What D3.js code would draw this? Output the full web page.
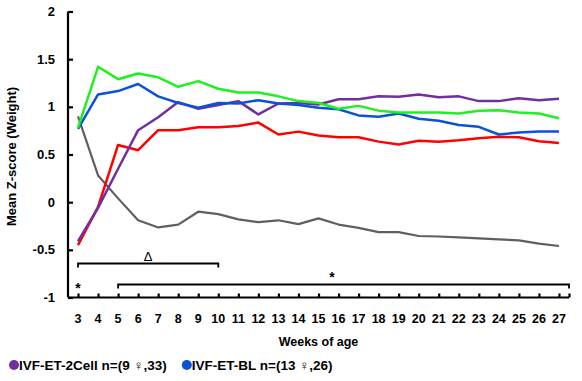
<!DOCTYPE html>
<html>
<head>
<meta charset="utf-8">
<script src="https://cdn.jsdelivr.net/npm/d3@7"></script>
<style>
  html, body { margin: 0; padding: 0; background: #fff; }
  svg text { font-family: "Liberation Sans", Arial, sans-serif; font-weight: bold; fill: #000; }
</style>
</head>
<body>
<svg id="chart" width="582" height="381"></svg>
<script>
// Weekly mean weight Z-scores, weeks 3–27
const weeks = d3.range(3, 28);

const purpleSeries = [-0.41, -0.06, 0.35, 0.755, 0.89, 1.05, 0.98, 1.02, 1.06, 0.92, 1.035, 1.04, 1.025,
  1.08, 1.08, 1.11, 1.105, 1.13, 1.10, 1.11, 1.06, 1.06, 1.09, 1.07, 1.085];
const blueSeries = [0.77, 1.13, 1.165, 1.24, 1.11, 1.04, 0.99, 1.04, 1.035, 1.07, 1.035, 1.02, 0.99,
  0.975, 0.91, 0.895, 0.93, 0.875, 0.855, 0.81, 0.79, 0.71, 0.73, 0.74, 0.74];
const greenSeries = [0.78, 1.42, 1.29, 1.35, 1.31, 1.21, 1.27, 1.19, 1.15, 1.15, 1.11, 1.06, 1.04,
  0.98, 1.01, 0.96, 0.94, 0.94, 0.94, 0.93, 0.96, 0.965, 0.94, 0.93, 0.88];
const redSeries = [-0.45, -0.05, 0.60, 0.545, 0.755, 0.755, 0.785, 0.785, 0.80, 0.835, 0.71, 0.74, 0.70,
  0.68, 0.68, 0.635, 0.605, 0.645, 0.635, 0.65, 0.67, 0.685, 0.68, 0.64, 0.62];
const graySeries = [0.90, 0.28, 0.04, -0.19, -0.265, -0.235, -0.10, -0.125, -0.18, -0.21, -0.19, -0.23, -0.17,
  -0.235, -0.27, -0.315, -0.315, -0.355, -0.36, -0.37, -0.38, -0.39, -0.40, -0.435, -0.46];

const series = [
  { name: "gray",   color: "#5f5f5f", values: graySeries, width: 2.2 },
  { name: "red",    color: "#ff0000", values: redSeries, width: 2.5 },
  { name: "purple", color: "#7030a0", values: purpleSeries, width: 2.5 },
  { name: "blue",   color: "#0b52d6", values: blueSeries, width: 2.5 },
  { name: "green",  color: "#1ff01f", values: greenSeries, width: 2.5 }
];

const yTicks = [2, 1.5, 1, 0.5, 0, -0.5, -1];
const yTickLabels = ["2", "1.5", "1", "0.5", "0", "-0.5", "-1"];

const legendItems = [
  { label: "IVF-ET-2Cell n=(9 \u2640,33)", color: "#7030a0" },
  { label: "IVF-ET-BL n=(13 \u2640,26)", color: "#0b52d6" }
];

// significance brackets (week spans)
const brackets = [
  { from: 3, to: 10, label: "\u0394", level: 0 },
  { from: 5, to: 27.5, label: "*", level: 1 }
];
const loneMarks = [{ week: 3, label: "*" }];

const svg = d3.select("#chart");
const plot = { left: 68, right: 569, top: 11.5, bottom: 297.5 };

const x = d3.scaleLinear().domain([2.5, 27.5]).range([plot.left, plot.right]);
const y = d3.scaleLinear().domain([-1, 2]).range([plot.bottom, plot.top]);

// lines
const line = d3.line().x((d, i) => x(weeks[i])).y(d => y(d));
svg.append("g").selectAll("path")
  .data(series)
  .join("path")
  .attr("fill", "none")
  .attr("stroke", d => d.color)
  .attr("stroke-width", d => d.width)
  .attr("stroke-linejoin", "round")
  .attr("d", d => line(d.values));

// y axis: ticks inside, bold labels
const yAxis = d3.axisRight(y).tickValues(yTicks).tickSize(5).tickFormat("");
const gy = svg.append("g").attr("transform", `translate(${plot.left},0)`).call(yAxis);
gy.select(".domain").attr("stroke", "#000").attr("stroke-width", 2.2)
  .attr("d", `M0,${plot.top}V${plot.bottom}`);
gy.selectAll(".tick line").attr("stroke", "#000").attr("stroke-width", 2.2);
svg.append("g").selectAll("text")
  .data(yTicks)
  .join("text")
  .attr("x", 55)
  .attr("y", d => y(d) + 4.5)
  .attr("text-anchor", "end")
  .attr("font-size", 13)
  .text((d, i) => yTickLabels[i]);

// x axis: ticks point up from the baseline
const xAxis = d3.axisTop(x).tickValues(weeks.concat([27.5])).tickSize(4).tickFormat("");
const gx = svg.append("g").attr("transform", `translate(0,${plot.bottom})`).call(xAxis);
gx.select(".domain").attr("stroke", "#000").attr("stroke-width", 2.2)
  .attr("d", `M${plot.left},0H${plot.right}`);
gx.selectAll(".tick line").attr("stroke", "#000").attr("stroke-width", 2.2);
svg.append("g").selectAll("text")
  .data(weeks)
  .join("text")
  .attr("x", d => x(d))
  .attr("y", 323)
  .attr("text-anchor", "middle")
  .attr("font-size", 12.5)
  .text(d => d);

// axis titles
svg.append("text")
  .attr("x", (plot.left + plot.right) / 2 + 0)
  .attr("y", 346)
  .attr("text-anchor", "middle")
  .attr("font-size", 12.5)
  .text("Weeks of age");
svg.append("text")
  .attr("transform", `translate(16,${(plot.top + plot.bottom) / 2 + 2}) rotate(-90)`)
  .attr("text-anchor", "middle")
  .attr("font-size", 13)
  .text("Mean Z-score (Weight)");

// significance brackets
const bracketY = [263.5, 284.5];
const bg = svg.append("g");
brackets.forEach(b => {
  const yy = bracketY[b.level];
  const x0 = x(b.from), x1 = x(b.to);
  bg.append("path")
    .attr("fill", "none").attr("stroke", "#000").attr("stroke-width", 1.8)
    .attr("d", `M${x0},${yy + 4}V${yy}H${x1}V${yy + 4}`);
  bg.append("text")
    .attr("x", b.label === "*" ? 332 : (x0 + x1) / 2)
    .attr("y", yy - 3)
    .attr("text-anchor", "middle")
    .attr("font-size", b.label === "*" ? 14 : 13)
    .style("font-weight", b.label === "*" ? "bold" : "normal")
    .text(b.label);
});
loneMarks.forEach(m => {
  bg.append("text")
    .attr("x", x(m.week))
    .attr("y", 293)
    .attr("text-anchor", "middle")
    .attr("font-size", 14)
    .text(m.label);
});

// legend
const lg = svg.append("g").attr("transform", "translate(0,366)");
let lx = 9;
legendItems.forEach(item => {
  lg.append("circle").attr("cx", lx + 5).attr("cy", -1).attr("r", 5).attr("fill", item.color);
  const t = lg.append("text").attr("x", lx + 10).attr("y", 4).attr("font-size", 13.5).text(item.label);
  lx += 10 + t.node().getComputedTextLength() + 15;
});
</script>
</body>
</html>
